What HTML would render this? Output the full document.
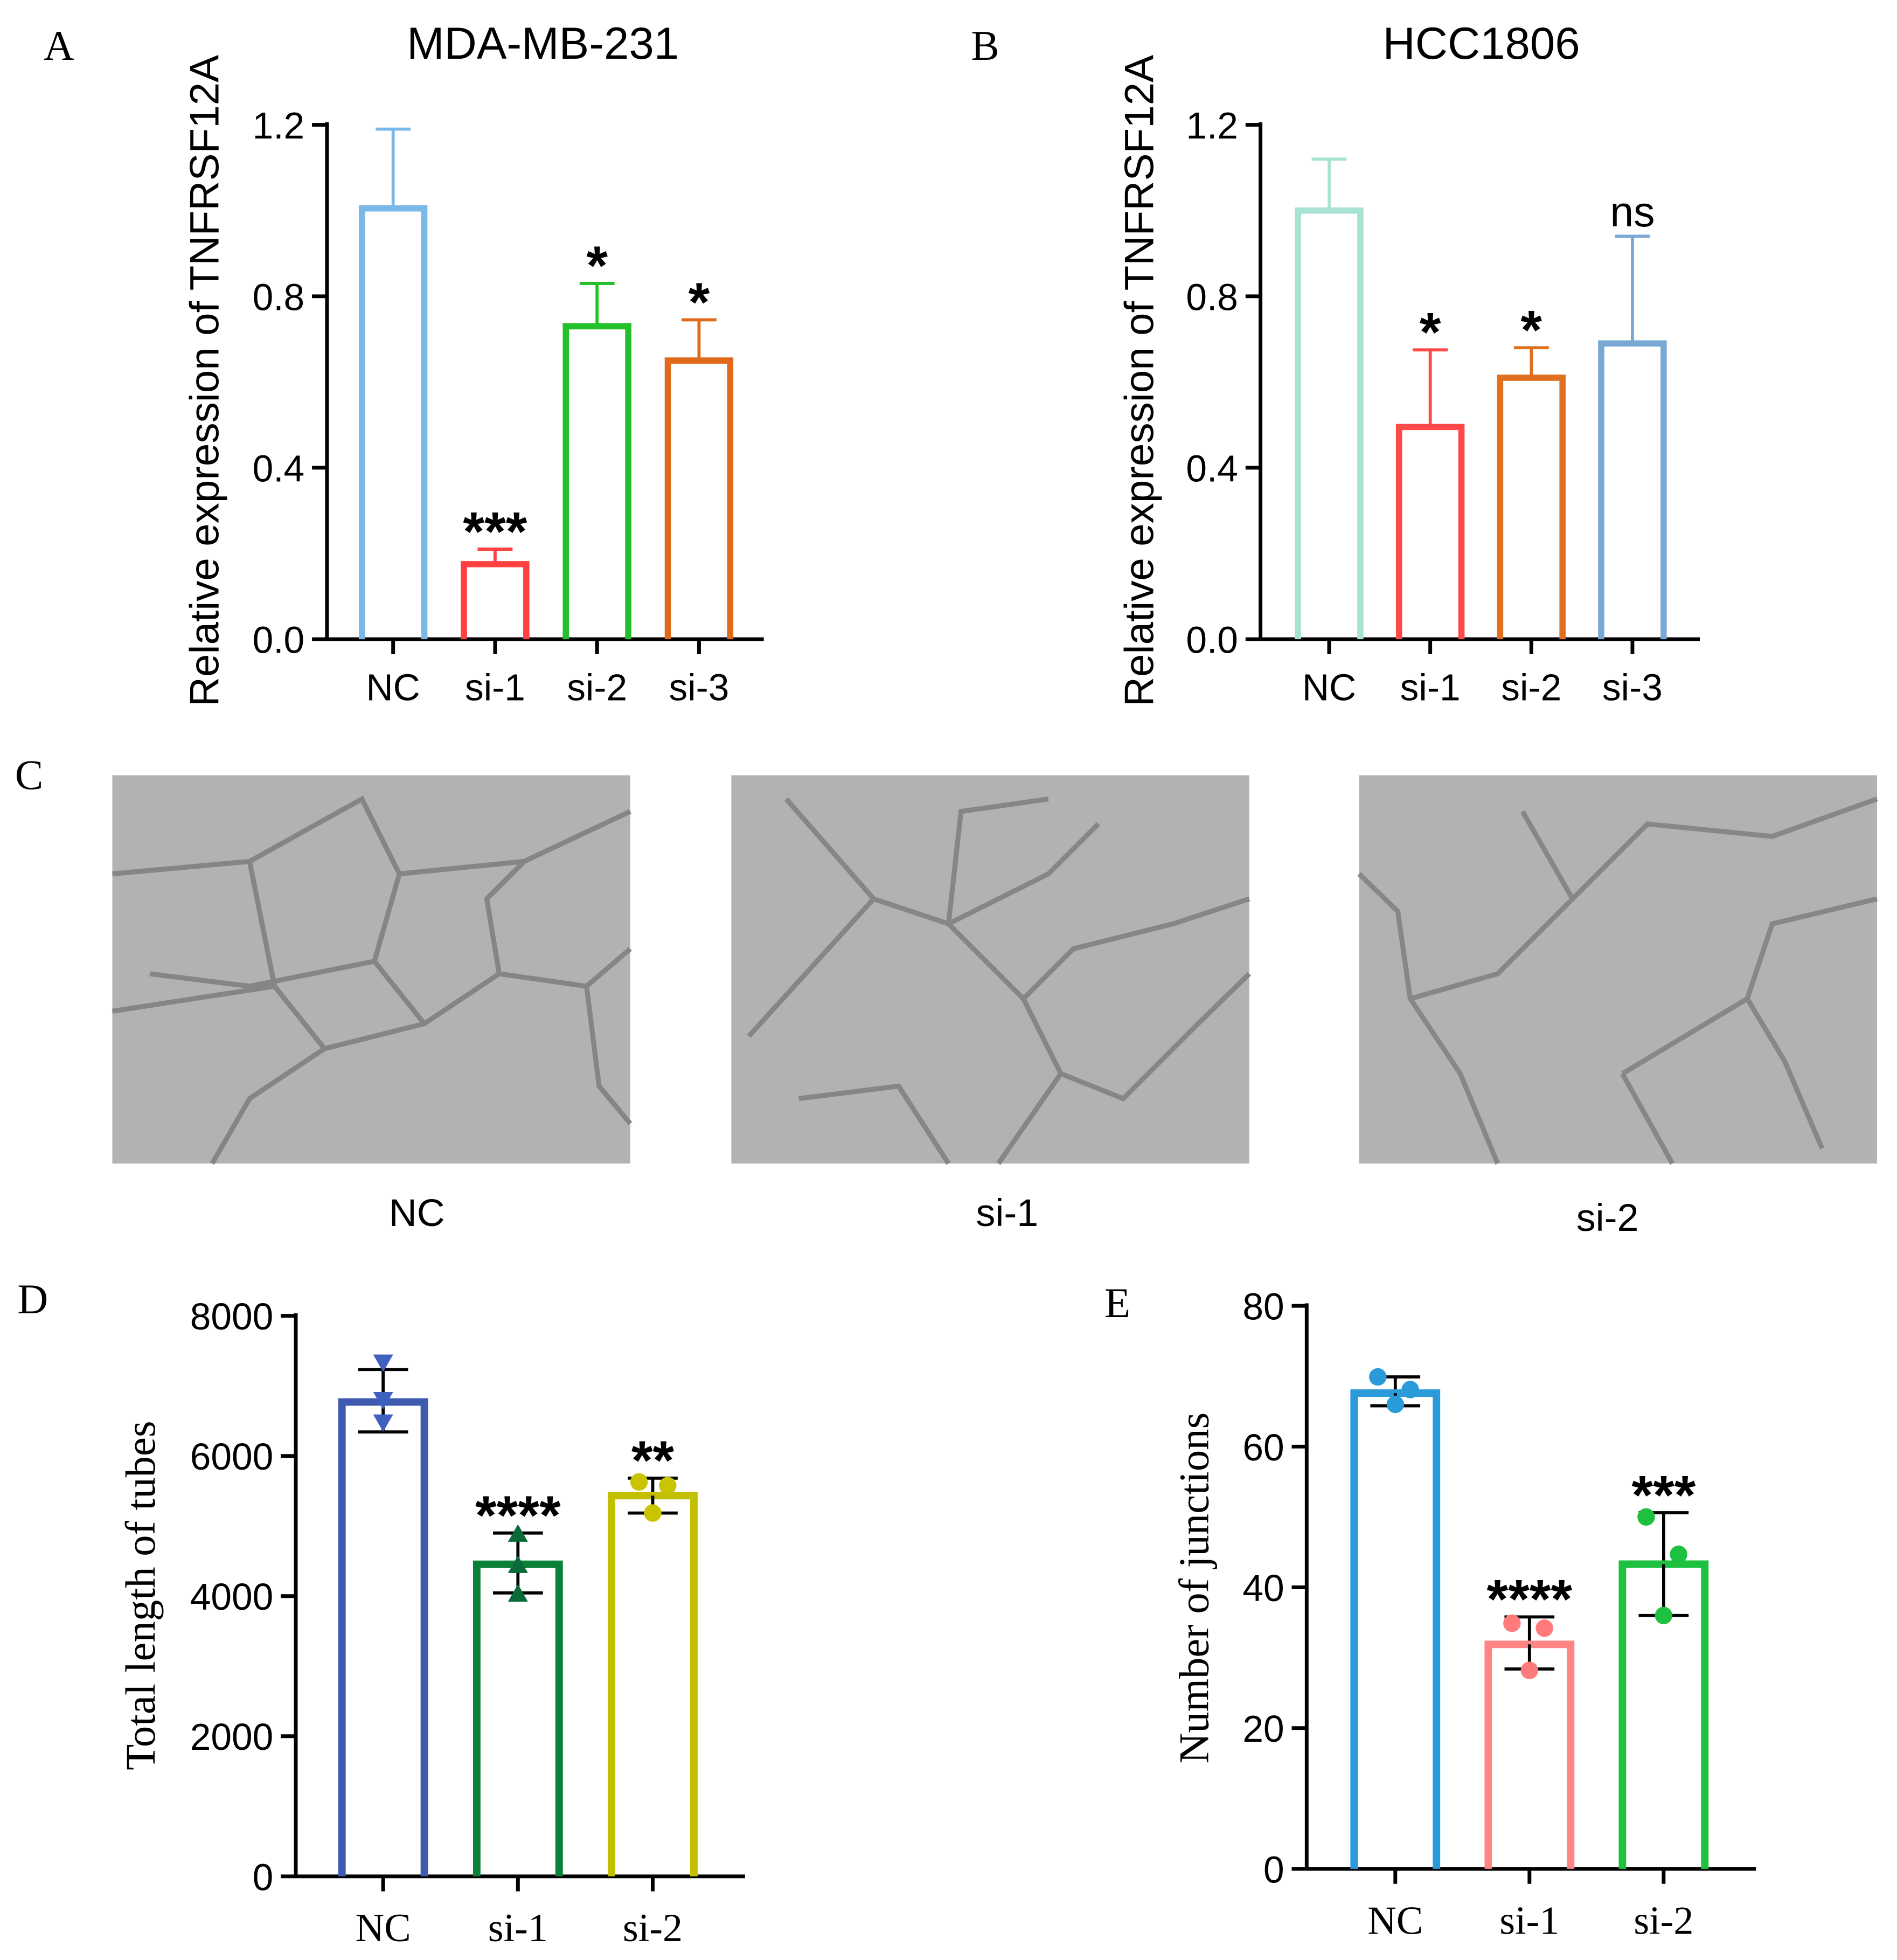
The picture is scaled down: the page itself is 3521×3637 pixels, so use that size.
<!DOCTYPE html>
<html><head><meta charset="utf-8"><style>
html,body{margin:0;padding:0;background:#fff}
svg{display:block}
.s{font-family:"Liberation Sans",Arial,sans-serif}
.r{font-family:"Liberation Serif","Times New Roman",serif}
</style></head><body>
<svg id="fig" xmlns="http://www.w3.org/2000/svg" width="3521" height="3637" viewBox="0 0 1520 1570" preserveAspectRatio="none">
<rect width="1520" height="1570" fill="#fff"/>
<text class="r" x="35" y="48" font-size="34">A</text>
<text class="r" x="778" y="48" font-size="34">B</text>
<text class="r" x="12" y="632" font-size="34">C</text>
<text class="r" x="14" y="1052" font-size="34">D</text>
<text class="r" x="885" y="1055" font-size="34">E</text>
<text class="s" x="435" y="47" font-size="36" text-anchor="middle">MDA-MB-231</text>
<text class="s" x="1187" y="47" font-size="36" text-anchor="middle">HCC1806</text>
<text class="s" font-size="33" text-anchor="middle" transform="translate(175,305) rotate(-90)">Relative expression of TNFRSF12A</text>
<text class="s" font-size="33" text-anchor="middle" transform="translate(924,305) rotate(-90)">Relative expression of TNFRSF12A</text>
<text class="r" font-size="34" text-anchor="middle" transform="translate(124,1278) rotate(-90)">Total length of tubes</text>
<text class="r" font-size="34" text-anchor="middle" transform="translate(968,1272) rotate(-90)">Number of junctions</text>
<g>
<rect x="90" y="621" width="415" height="311" fill="#b2b2b2"/>
<path d="M90,700 L200,690 L290,640 L320,700 L300,770 L200,790 L120,780 M200,690 L220,790 L260,840 L340,820 L400,780 L470,790 L505,760 M320,700 L420,690 L505,650 M300,770 L340,820 M260,840 L200,880 L170,932 M400,780 L390,720 L420,690 M470,790 L480,870 L505,900 M90,810 L220,790" stroke="#858585" stroke-width="4" fill="none"/>
</g>
<g>
<rect x="586" y="621" width="415" height="311" fill="#b2b2b2"/>
<path d="M630,640 L700,720 L760,740 L840,700 L880,660 M760,740 L820,800 L850,860 L900,880 L960,820 L1001,780 M700,720 L600,830 M820,800 L860,760 L940,740 L1001,720 M850,860 L800,932 M640,880 L720,870 L760,932 M760,740 L770,650 L840,640" stroke="#868686" stroke-width="4" fill="none"/>
</g>
<g>
<rect x="1089" y="621" width="415" height="311" fill="#b2b2b2"/>
<path d="M1089,700 L1120,730 L1130,800 L1170,860 L1200,932 M1130,800 L1200,780 L1260,720 L1320,660 L1420,670 L1504,640 M1300,860 L1350,830 L1400,800 L1430,850 L1460,920 M1300,860 L1340,932 M1400,800 L1420,740 L1504,720 M1220,650 L1260,720" stroke="#878787" stroke-width="4" fill="none"/>
</g>
<text class="s" x="334" y="982" font-size="31" text-anchor="middle">NC</text>
<text class="s" x="807" y="982" font-size="31" text-anchor="middle">si-1</text>
<text class="s" x="1288" y="986" font-size="31" text-anchor="middle">si-2</text>
<g id="charts"></g>
</svg>
<script>
// Panel A
const catsA = ["NC","si-1","si-2","si-3"];
const valsA = [1.005, 0.175, 0.73, 0.65];
const errA = [0.185, 0.035, 0.10, 0.095];
const sigA = ["", "***", "*", "*"];
const ticksA = [0, 0.4, 0.8, 1.2];
const tickLabelsA = ["0.0","0.4","0.8","1.2"];
// Panel B
const catsB = ["NC","si-1","si-2","si-3"];
const valsB = [1.0, 0.495, 0.61, 0.69];
const errB = [0.12, 0.18, 0.07, 0.25];
const sigB = ["", "*", "*", "ns"];
const ticksB = [0, 0.4, 0.8, 1.2];
const tickLabelsB = ["0.0","0.4","0.8","1.2"];
// Panel D
const catsD = ["NC","si-1","si-2"];
const valsD = [6770, 4454, 5434];
const errHiD = [7234, 4900, 5683];
const errLoD = [6343, 4045, 5185];
const ptsD = [[7323, 6788, 6468],[4900, 4454, 4045],[5630, 5577, 5185]];
const sigD = ["", "****", "**"];
const ticksD = [0, 2000, 4000, 6000, 8000];
// Panel E
const catsE = ["NC","si-1","si-2"];
const valsE = [67.6, 31.9, 43.3];
const errHiE = [69.9, 35.8, 50.6];
const errLoE = [65.8, 28.4, 36.0];
const ptsE = [[69.9, 68.1, 66.0],[34.9, 34.2, 28.2],[50.0, 44.7, 36.0]];
const sigE = ["", "****", "***"];
const ticksE = [0, 20, 40, 60, 80];

const NS = "http://www.w3.org/2000/svg";
const root = document.getElementById("charts");
function mk(tag, attrs, parent, txt){
  const e = document.createElementNS(NS, tag);
  for (const k in attrs) e.setAttribute(k, attrs[k]);
  if (txt !== undefined) e.textContent = txt;
  (parent || root).appendChild(e);
  return e;
}
function panel(p){
  const g = mk("g", {});
  
  
  const y = v => p.y0 - (v - 0) / p.max * (p.y0 - p.yTop);
  const x = i => p.cx0 + i * p.step;
  const ya = mk("line", {x1:p.ax, y1:p.yTop - 2, x2:p.ax, y2:p.y0, stroke:"#000", "stroke-width":3}, g);
  
  
  const xa = mk("line", {x1:p.ax, y1:p.y0, x2:p.axEnd, y2:p.y0, stroke:"#000", "stroke-width":3}, g);
  
  
  p.ticks.forEach((t, i) => {
    mk("line", {x1:p.ax - 12, y1:y(t), x2:p.ax, y2:y(t), stroke:"#000", "stroke-width":3}, g);
    const tl = mk("text", {x:p.ax - 18, y:y(t) + 11, "font-size":30, "text-anchor":"end", class:"s"}, g, p.tickLabels[i]);
    
    
  });
  p.cats.forEach((c, i) => {
    const cx = x(i);
    mk("line", {x1:cx, y1:p.y0, x2:cx, y2:p.y0 + 12, stroke:"#000", "stroke-width":3}, g);
    const xl = mk("text", {x:cx, y:p.y0 + (p.serif ? 52 : 49), "font-size":p.serif ? 32 : 30, "text-anchor":"middle", class:p.serif ? "r" : "s"}, g, c);
    
    
    const v = p.vals[i];
    const hw = p.bw / 2;
    const top = y(v);
    const eh = p.errHi ? p.errHi[i] : v + p.err[i];
    const ec = p.errColor || p.colors[i];
    mk("line", {x1:cx, y1:y(eh), x2:cx, y2:top, stroke:ec, "stroke-width":2.5}, g);
    mk("line", {x1:cx - p.cap, y1:y(eh), x2:cx + p.cap, y2:y(eh), stroke:ec, "stroke-width":2.5}, g);
    const bar = mk("path", {d:`M${cx-hw},${p.y0} L${cx-hw},${top} L${cx+hw},${top} L${cx+hw},${p.y0}`, fill:"none", stroke:p.colors[i], "stroke-width":p.sw}, g);
    
    
    if (p.errLo) {
      mk("line", {x1:cx, y1:top, x2:cx, y2:y(p.errLo[i]), stroke:"#000", "stroke-width":2.5}, g);
      mk("line", {x1:cx - p.cap, y1:y(p.errLo[i]), x2:cx + p.cap, y2:y(p.errLo[i]), stroke:"#000", "stroke-width":2.5}, g);
    }
    if (p.pts) {
      p.pts[i].forEach((pv, j) => {
        const py = y(pv);
        const sh = p.shapes[i];
        const col = p.ptColors[i];
        const dx = p.ptDx[j];
        let m;
        if (sh === "down") m = mk("path", {d:`M${cx-8},${py-7} L${cx+8},${py-7} L${cx},${py+7} Z`, fill:col}, g);
        else if (sh === "up") m = mk("path", {d:`M${cx-8},${py+7} L${cx+8},${py+7} L${cx},${py-7} Z`, fill:col}, g);
        else m = mk("circle", {cx:cx + dx, cy:py, r:7, fill:col}, g);
        
        
      });
    }
    if (p.sig[i]) {
      const isNs = p.sig[i] === "ns";
      const st = mk("text", {x:cx, y:y(eh) - (isNs ? 8 : -1), "font-size":isNs ? 34 : 44, "font-weight":isNs ? "normal" : "bold", "text-anchor":"middle", class:"s"}, g, p.sig[i]);
      
      
    }
  });
}
panel({id:"a", cats:catsA, vals:valsA, err:errA, sig:sigA, ticks:ticksA, tickLabels:tickLabelsA, max:1.2,
  ax:262, axEnd:612, y0:512, yTop:100, cx0:315, step:81.7, bw:50, cap:14, sw:5,
  colors:["#7ab8e8","#ff4040","#22c02a","#e06a1a"]});
panel({id:"b", cats:catsB, vals:valsB, err:errB, sig:sigB, ticks:ticksB, tickLabels:tickLabelsB, max:1.2,
  ax:1010, axEnd:1362, y0:512, yTop:100, cx0:1065, step:81, bw:50, cap:14, sw:5,
  colors:["#a8e2d2","#ff4848","#e07020","#7aa8d4"]});
panel({id:"d", cats:catsD, vals:valsD, errHi:errHiD, errLo:errLoD, pts:ptsD, sig:sigD, ticks:ticksD, tickLabels:ticksD.map(String), max:8000,
  ax:237, axEnd:597, y0:1503, yTop:1054, cx0:307, step:108, bw:66, cap:20, sw:6, serif:true, errColor:"#000",
  colors:["#3f5bb0","#0a8038","#c2c000"], ptColors:["#4060c0","#0a6a38","#c8c400"], shapes:["down","up","circle"], ptDx:[-11, 12, 0]});
panel({id:"e", cats:catsE, vals:valsE, errHi:errHiE, errLo:errLoE, pts:ptsE, sig:sigE, ticks:ticksE, tickLabels:ticksE.map(String), max:80,
  ax:1047, axEnd:1407, y0:1497, yTop:1046, cx0:1118, step:107.5, bw:66, cap:20, sw:6, serif:true, errColor:"#000",
  colors:["#2a9ad8","#ff8585","#1ec040"], ptColors:["#2a9ad8","#ff7a7a","#1ec040"], shapes:["circle","circle","circle"], ptDx:[-14, 12, 0]});
</script>
</body></html>
